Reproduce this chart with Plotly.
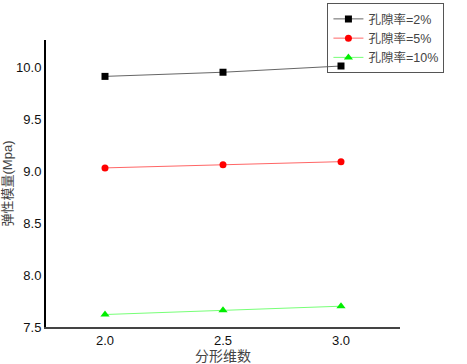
import plotly.graph_objects as go

fractal_dim = [2.0, 2.5, 3.0]
series_names = ["孔隙率=2%", "孔隙率=5%", "孔隙率=10%"]
modulus_2 = [9.91, 9.95, 10.01]
modulus_5 = [9.03, 9.06, 9.09]
modulus_10 = [7.62, 7.66, 7.70]
y_ticks = [7.5, 8.0, 8.5, 9.0, 9.5, 10.0]
x_ticks = [2.0, 2.5, 3.0]

fig = go.Figure()
styles = [
    (modulus_2, "#000000", "#666666", "square", 7),
    (modulus_5, "#ff0000", "#ff6666", "circle", 7),
    (modulus_10, "#00ee00", "#77ff77", "triangle-up", 8),
]
for name, (vals, mc, lc, sym, sz) in zip(series_names, styles):
    fig.add_trace(go.Scatter(
        x=fractal_dim, y=vals, name=name, mode="lines+markers",
        line=dict(color=lc, width=1),
        marker=dict(color=mc, symbol=sym, size=sz),
    ))

font = "Liberation Sans, Arial, Noto Sans CJK SC"
fig.update_layout(
    width=467, height=364,
    margin=dict(l=46, r=67, t=40, b=37, autoexpand=False),
    paper_bgcolor="white", plot_bgcolor="white",
    font=dict(family=font, size=13, color="#111111"),
    showlegend=True,
    legend=dict(
        x=0.795, y=1.128, xanchor="left", yanchor="top",
        bordercolor="#555555", borderwidth=1, bgcolor="rgba(255,255,255,0)",
        font=dict(size=12.5, color="#444444", family=font),
        tracegroupgap=0, itemwidth=30,
    ),
    xaxis=dict(
        range=[1.75, 3.25], tickvals=x_ticks, ticktext=["2.0", "2.5", "3.0"],
        showgrid=False, zeroline=False, showline=True, linecolor="#444444",
        linewidth=2, ticks="", automargin=False,
        title=dict(text="分形维数", font=dict(size=14, color="#444444"), standoff=0),
    ),
    yaxis=dict(
        range=[7.5, 10.26], tickvals=y_ticks, ticktext=["7.5", "8.0", "8.5", "9.0", "9.5", "10.0"],
        showgrid=False, zeroline=False, showline=True, linecolor="#000000",
        linewidth=2, ticks="", automargin=False, ticklabelstandoff=0,
        title=dict(text="弹性模量(Mpa)", font=dict(size=13, color="#444444"), standoff=3),
    ),
)
fig.write_html("out.html", config={"displayModeBar": False},
               post_script="document.body.style.margin='0';document.body.style.overflow='hidden';")
